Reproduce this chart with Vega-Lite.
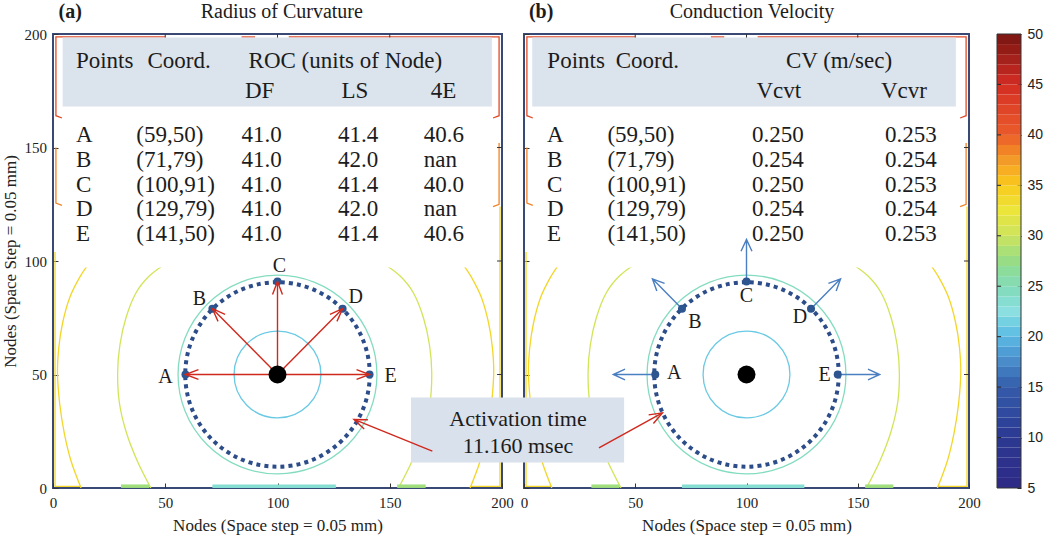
{
 "$schema": "https://vega.github.io/schema/vega-lite/v6.json",
 "background": "white",
 "padding": {"left": 0, "top": 0, "right": 2, "bottom": 0},
 "config": {
  "view": {"stroke": "#3a4876", "strokeWidth": 2},
  "axis": {"grid": false, "domain": false, "tickColor": "#333333", "tickWidth": 1, "labelFont": "Liberation Serif", "labelFontSize": 15, "labelColor": "#222222", "titleFont": "Liberation Serif", "titleFontSize": 17, "titleFontWeight": "normal", "titleColor": "#222222", "labelFlush": false},
  "text": {"font": "Liberation Serif", "color": "#1c1c1c"}
 },
 "datasets": {
  "circ": [{"lvl": 21, "r": 19.3}, {"lvl": 24.5, "r": 44.2}],
  "tk": [{"v": 50}, {"v": 100}, {"v": 150}],
  "cbt": [{"v": 10}, {"v": 15}, {"v": 20}, {"v": 25}, {"v": 30}, {"v": 35}, {"v": 40}, {"v": 45}],
  "arcs": [
   {"id": "g1", "lvl": 30.5, "i": 0, "x": 43.6, "y": 0}, {"id": "g1", "lvl": 30.5, "i": 1, "x": 37.5, "y": 12}, {"id": "g1", "lvl": 30.5, "i": 2, "x": 32.5, "y": 25}, {"id": "g1", "lvl": 30.5, "i": 3, "x": 29.5, "y": 38}, {"id": "g1", "lvl": 30.5, "i": 4, "x": 28.8, "y": 51}, {"id": "g1", "lvl": 30.5, "i": 5, "x": 29.8, "y": 63}, {"id": "g1", "lvl": 30.5, "i": 6, "x": 32.5, "y": 75}, {"id": "g1", "lvl": 30.5, "i": 7, "x": 37, "y": 86}, {"id": "g1", "lvl": 30.5, "i": 8, "x": 43, "y": 93.5}, {"id": "g1", "lvl": 30.5, "i": 9, "x": 52, "y": 100},
   {"id": "g2", "lvl": 30.5, "i": 0, "x": 153.9, "y": 0}, {"id": "g2", "lvl": 30.5, "i": 1, "x": 160, "y": 12}, {"id": "g2", "lvl": 30.5, "i": 2, "x": 165, "y": 25}, {"id": "g2", "lvl": 30.5, "i": 3, "x": 168, "y": 38}, {"id": "g2", "lvl": 30.5, "i": 4, "x": 168.7, "y": 51}, {"id": "g2", "lvl": 30.5, "i": 5, "x": 167.7, "y": 63}, {"id": "g2", "lvl": 30.5, "i": 6, "x": 165, "y": 75}, {"id": "g2", "lvl": 30.5, "i": 7, "x": 160.5, "y": 86}, {"id": "g2", "lvl": 30.5, "i": 8, "x": 154.5, "y": 93.5}, {"id": "g2", "lvl": 30.5, "i": 9, "x": 145.5, "y": 100},
   {"id": "y1", "lvl": 34, "i": 0, "x": 12.5, "y": 0}, {"id": "y1", "lvl": 34, "i": 1, "x": 8, "y": 12}, {"id": "y1", "lvl": 34, "i": 2, "x": 5, "y": 24.3}, {"id": "y1", "lvl": 34, "i": 3, "x": 3, "y": 37}, {"id": "y1", "lvl": 34, "i": 4, "x": 2, "y": 50.7}, {"id": "y1", "lvl": 34, "i": 5, "x": 2.6, "y": 62}, {"id": "y1", "lvl": 34, "i": 6, "x": 4.3, "y": 72.8}, {"id": "y1", "lvl": 34, "i": 7, "x": 7.5, "y": 84}, {"id": "y1", "lvl": 34, "i": 8, "x": 12, "y": 93}, {"id": "y1", "lvl": 34, "i": 9, "x": 16.5, "y": 99.5},
   {"id": "y2", "lvl": 34, "i": 0, "x": 185.8, "y": 0}, {"id": "y2", "lvl": 34, "i": 1, "x": 190.3, "y": 12}, {"id": "y2", "lvl": 34, "i": 2, "x": 193.3, "y": 24.3}, {"id": "y2", "lvl": 34, "i": 3, "x": 195.3, "y": 37}, {"id": "y2", "lvl": 34, "i": 4, "x": 196.3, "y": 50.7}, {"id": "y2", "lvl": 34, "i": 5, "x": 195.7, "y": 62}, {"id": "y2", "lvl": 34, "i": 6, "x": 194, "y": 72.8}, {"id": "y2", "lvl": 34, "i": 7, "x": 190.8, "y": 84}, {"id": "y2", "lvl": 34, "i": 8, "x": 186.3, "y": 93}, {"id": "y2", "lvl": 34, "i": 9, "x": 181.8, "y": 99.5}
  ],
  "edges": [
   {"id": "e1", "lvl": 34, "i": 0, "x": 0.9, "y": 104}, {"id": "e1", "lvl": 34, "i": 1, "x": 0.9, "y": 0.7}, {"id": "e1", "lvl": 34, "i": 2, "x": 12.5, "y": 0.7},
   {"id": "e2", "lvl": 34, "i": 0, "x": 199.1, "y": 124}, {"id": "e2", "lvl": 34, "i": 1, "x": 199.1, "y": 0.7}, {"id": "e2", "lvl": 34, "i": 2, "x": 185.8, "y": 0.7},
   {"id": "e3", "lvl": 42, "i": 0, "x": 4, "y": 163}, {"id": "e3", "lvl": 42, "i": 1, "x": 1.3, "y": 164}, {"id": "e3", "lvl": 42, "i": 2, "x": 1.3, "y": 198.7}, {"id": "e3", "lvl": 42, "i": 3, "x": 50, "y": 198.7},
   {"id": "e4", "lvl": 42, "i": 0, "x": 84, "y": 198.7}, {"id": "e4", "lvl": 42, "i": 1, "x": 90, "y": 198.7},
   {"id": "e5", "lvl": 42, "i": 0, "x": 105, "y": 198.7}, {"id": "e5", "lvl": 42, "i": 1, "x": 198.7, "y": 198.7}, {"id": "e5", "lvl": 42, "i": 2, "x": 198.7, "y": 164}, {"id": "e5", "lvl": 42, "i": 3, "x": 196, "y": 163},
   {"id": "e6", "lvl": 38.5, "i": 0, "x": 1.3, "y": 150}, {"id": "e6", "lvl": 38.5, "i": 1, "x": 1.3, "y": 125.5}, {"id": "e6", "lvl": 38.5, "i": 2, "x": 4, "y": 124.5},
   {"id": "e7", "lvl": 38.5, "i": 0, "x": 198.7, "y": 152}, {"id": "e7", "lvl": 38.5, "i": 1, "x": 198.7, "y": 125}, {"id": "e7", "lvl": 38.5, "i": 2, "x": 196, "y": 124}
  ],
  "bands": [{"lvl": 28, "a": 30.3, "b": 42.9}, {"lvl": 23.5, "a": 71, "b": 126}, {"lvl": 28, "a": 153.3, "b": 166}],
  "pts": [
   {"pt": "A", "x": 59, "y": 50, "dir": 270, "ty": 155.7, "coord": "(59,50)", "DF": "41.0", "LS": "41.4", "E4": "40.6", "vt": "0.250", "vr": "0.253"},
   {"pt": "B", "x": 71, "y": 79, "dir": 315.3, "ty": 144.7, "coord": "(71,79)", "DF": "41.0", "LS": "42.0", "E4": "nan", "vt": "0.254", "vr": "0.254"},
   {"pt": "C", "x": 100, "y": 91, "dir": 0, "ty": 133.7, "coord": "(100,91)", "DF": "41.0", "LS": "41.4", "E4": "40.0", "vt": "0.250", "vr": "0.253"},
   {"pt": "D", "x": 129, "y": 79, "dir": 44.7, "ty": 122.7, "coord": "(129,79)", "DF": "41.0", "LS": "42.0", "E4": "nan", "vt": "0.254", "vr": "0.254"},
   {"pt": "E", "x": 141, "y": 50, "dir": 90, "ty": 111.7, "coord": "(141,50)", "DF": "41.0", "LS": "41.4", "E4": "40.6", "vt": "0.250", "vr": "0.253"}
  ],
  "cbar": [
   {"lo": 5, "hi": 6, "c": 5.5}, {"lo": 6, "hi": 7, "c": 6.5}, {"lo": 7, "hi": 8, "c": 7.5}, {"lo": 8, "hi": 9, "c": 8.5}, {"lo": 9, "hi": 10, "c": 9.5},
   {"lo": 10, "hi": 11, "c": 10.5}, {"lo": 11, "hi": 12, "c": 11.5}, {"lo": 12, "hi": 13, "c": 12.5}, {"lo": 13, "hi": 14, "c": 13.5}, {"lo": 14, "hi": 15, "c": 14.5},
   {"lo": 15, "hi": 16, "c": 15.5}, {"lo": 16, "hi": 17, "c": 16.5}, {"lo": 17, "hi": 18, "c": 17.5}, {"lo": 18, "hi": 19, "c": 18.5}, {"lo": 19, "hi": 20, "c": 19.5},
   {"lo": 20, "hi": 21, "c": 20.5}, {"lo": 21, "hi": 22, "c": 21.5}, {"lo": 22, "hi": 23, "c": 22.5}, {"lo": 23, "hi": 24, "c": 23.5}, {"lo": 24, "hi": 25, "c": 24.5},
   {"lo": 25, "hi": 26, "c": 25.5}, {"lo": 26, "hi": 27, "c": 26.5}, {"lo": 27, "hi": 28, "c": 27.5}, {"lo": 28, "hi": 29, "c": 28.5}, {"lo": 29, "hi": 30, "c": 29.5},
   {"lo": 30, "hi": 31, "c": 30.5}, {"lo": 31, "hi": 32, "c": 31.5}, {"lo": 32, "hi": 33, "c": 32.5}, {"lo": 33, "hi": 34, "c": 33.5}, {"lo": 34, "hi": 35, "c": 34.5},
   {"lo": 35, "hi": 36, "c": 35.5}, {"lo": 36, "hi": 37, "c": 36.5}, {"lo": 37, "hi": 38, "c": 37.5}, {"lo": 38, "hi": 39, "c": 38.5}, {"lo": 39, "hi": 40, "c": 39.5},
   {"lo": 40, "hi": 41, "c": 40.5}, {"lo": 41, "hi": 42, "c": 41.5}, {"lo": 42, "hi": 43, "c": 42.5}, {"lo": 43, "hi": 44, "c": 43.5}, {"lo": 44, "hi": 45, "c": 44.5},
   {"lo": 45, "hi": 46, "c": 45.5}, {"lo": 46, "hi": 47, "c": 46.5}, {"lo": 47, "hi": 48, "c": 47.5}, {"lo": 48, "hi": 49, "c": 48.5}, {"lo": 49, "hi": 50, "c": 49.5}
  ]
 },
 "spacing": 22,
 "bounds": "flush",
 "hconcat": [
  {
   "width": 449, "height": 454,
   "data": {"values": [{}]},
   "layer": [
    {"data": {"name": "circ"}, "mark": {"type": "point", "shape": "circle", "filled": false, "strokeWidth": 1.3, "opacity": 1},
     "encoding": {
      "x": {"datum": 100, "type": "quantitative", "scale": {"domain": [0, 200], "nice": false, "zero": false}, "axis": {"orient": "bottom", "values": [0, 50, 100, 150, 200], "title": "Nodes (Space step = 0.05 mm)", "tickSize": -5, "labelPadding": 12.5, "titlePadding": 7}},
      "y": {"datum": 50, "type": "quantitative", "scale": {"domain": [0, 200], "nice": false, "zero": false}, "axis": {"orient": "left", "values": [0, 50, 100, 150, 200], "title": "Nodes (Space Step = 0.05 mm)", "tickSize": -5, "labelPadding": 11.5, "titlePadding": 4.5}},
      "size": {"field": "r", "type": "quantitative", "legend": null, "scale": {"type": "pow", "exponent": 2, "domain": [0, 100], "range": [0, 202500]}},
      "color": {"field": "lvl", "type": "quantitative", "legend": null, "scale": {"type": "linear", "domain": [5, 10, 15, 17.5, 20, 22.5, 25, 27.5, 30, 32.5, 35, 37.5, 40, 45, 50], "range": ["#2e2a85", "#2c3891", "#355ca9", "#4a8bca", "#5eb9e4", "#8cdfe0", "#86dbb6", "#98dc86", "#cde35c", "#ece63a", "#f8cb1e", "#f39b28", "#ea5b2b", "#d42c23", "#781612"]}}
     }},
    {"data": {"name": "arcs"}, "mark": {"type": "line", "strokeWidth": 1.3, "interpolate": "cardinal", "clip": true},
     "encoding": {"x": {"field": "x", "type": "quantitative"}, "y": {"field": "y", "type": "quantitative"}, "detail": {"field": "id", "type": "nominal"}, "order": {"field": "i", "type": "quantitative"}, "color": {"field": "lvl", "type": "quantitative", "legend": null}}},
    {"data": {"name": "edges"}, "mark": {"type": "line", "strokeWidth": 1.3},
     "encoding": {"x": {"field": "x", "type": "quantitative"}, "y": {"field": "y", "type": "quantitative"}, "detail": {"field": "id", "type": "nominal"}, "order": {"field": "i", "type": "quantitative"}, "color": {"field": "lvl", "type": "quantitative", "legend": null}}},
    {"data": {"name": "bands"}, "mark": {"type": "rule", "strokeWidth": 3.5},
     "encoding": {"x": {"field": "a", "type": "quantitative"}, "x2": {"field": "b"}, "y": {"datum": 0.8, "type": "quantitative"}, "color": {"field": "lvl", "type": "quantitative", "legend": null}}},
    {"data": {"name": "tk"}, "mark": {"type": "rule", "color": "#333333", "strokeWidth": 1}, "encoding": {"x": {"field": "v", "type": "quantitative"}, "y": {"datum": 200, "type": "quantitative"}, "y2": {"datum": 197.8}}},
    {"data": {"name": "tk"}, "mark": {"type": "rule", "color": "#333333", "strokeWidth": 1}, "encoding": {"y": {"field": "v", "type": "quantitative"}, "x": {"datum": 200, "type": "quantitative"}, "x2": {"datum": 197.8}}},
    {"mark": {"type": "rect", "color": "white"}, "encoding": {"x": {"datum": 4.3, "type": "quantitative"}, "x2": {"datum": 195.5}, "y": {"datum": 97.1, "type": "quantitative"}, "y2": {"datum": 168.1}}},
    {"mark": {"type": "rect", "color": "#dbe3ed"}, "encoding": {"x": {"datum": 4.3, "type": "quantitative"}, "x2": {"datum": 195.5}, "y": {"datum": 168.1, "type": "quantitative"}, "y2": {"datum": 198.5}}},
    {"mark": {"type": "text", "text": "Points", "fontSize": 23, "align": "left", "baseline": "middle"}, "encoding": {"x": {"datum": 10.2, "type": "quantitative"}, "y": {"datum": 187.9, "type": "quantitative"}}},
    {"mark": {"type": "text", "text": "Coord.", "fontSize": 23, "align": "left", "baseline": "middle"}, "encoding": {"x": {"datum": 42.1, "type": "quantitative"}, "y": {"datum": 187.9, "type": "quantitative"}}},
    {"mark": {"type": "text", "text": "ROC (units of Node)", "fontSize": 23, "align": "left", "baseline": "middle"}, "encoding": {"x": {"datum": 87.1, "type": "quantitative"}, "y": {"datum": 187.9, "type": "quantitative"}}},
    {"mark": {"type": "text", "text": "DF", "fontSize": 23, "align": "left", "baseline": "middle"}, "encoding": {"x": {"datum": 85.5, "type": "quantitative"}, "y": {"datum": 174.7, "type": "quantitative"}}},
    {"mark": {"type": "text", "text": "LS", "fontSize": 23, "align": "left", "baseline": "middle"}, "encoding": {"x": {"datum": 128.5, "type": "quantitative"}, "y": {"datum": 174.7, "type": "quantitative"}}},
    {"mark": {"type": "text", "text": "4E", "fontSize": 23, "align": "left", "baseline": "middle"}, "encoding": {"x": {"datum": 168.3, "type": "quantitative"}, "y": {"datum": 174.7, "type": "quantitative"}}},
    {"data": {"name": "pts"}, "mark": {"type": "text", "fontSize": 23, "align": "left", "baseline": "middle"}, "encoding": {"x": {"datum": 10.2, "type": "quantitative"}, "y": {"field": "ty", "type": "quantitative"}, "text": {"field": "pt", "type": "nominal"}}},
    {"data": {"name": "pts"}, "mark": {"type": "text", "fontSize": 23, "align": "left", "baseline": "middle"}, "encoding": {"x": {"datum": 37.1, "type": "quantitative"}, "y": {"field": "ty", "type": "quantitative"}, "text": {"field": "coord", "type": "nominal"}}},
    {"data": {"name": "pts"}, "mark": {"type": "text", "fontSize": 23, "align": "left", "baseline": "middle"}, "encoding": {"x": {"datum": 84, "type": "quantitative"}, "y": {"field": "ty", "type": "quantitative"}, "text": {"field": "DF", "type": "nominal"}}},
    {"data": {"name": "pts"}, "mark": {"type": "text", "fontSize": 23, "align": "left", "baseline": "middle"}, "encoding": {"x": {"datum": 127, "type": "quantitative"}, "y": {"field": "ty", "type": "quantitative"}, "text": {"field": "LS", "type": "nominal"}}},
    {"data": {"name": "pts"}, "mark": {"type": "text", "fontSize": 23, "align": "left", "baseline": "middle"}, "encoding": {"x": {"datum": 165.2, "type": "quantitative"}, "y": {"field": "ty", "type": "quantitative"}, "text": {"field": "E4", "type": "nominal"}}},
    {"mark": {"type": "point", "shape": "circle", "filled": false, "stroke": "#2c4d8a", "strokeWidth": 4, "strokeDash": [4, 4.1], "opacity": 1},
     "encoding": {"x": {"datum": 100, "type": "quantitative"}, "y": {"datum": 50, "type": "quantitative"}, "size": {"datum": 41, "type": "quantitative", "legend": null}}},
    {"data": {"name": "pts"}, "mark": {"type": "point", "shape": "circle", "filled": true, "color": "#2d5590", "size": 64, "opacity": 1}, "encoding": {"x": {"field": "x", "type": "quantitative"}, "y": {"field": "y", "type": "quantitative"}}},
    {"data": {"name": "pts"}, "mark": {"type": "rule", "color": "#d0281c", "strokeWidth": 1.4}, "encoding": {"x": {"field": "x", "type": "quantitative"}, "y": {"field": "y", "type": "quantitative"}, "x2": {"datum": 100}, "y2": {"datum": 50}}},
    {"data": {"name": "pts"}, "mark": {"type": "point", "shape": "M -0.38 1 L 0 0 L 0.38 1", "filled": false, "color": "#d0281c", "strokeWidth": 1.4, "size": 676, "opacity": 1}, "encoding": {"x": {"field": "x", "type": "quantitative"}, "y": {"field": "y", "type": "quantitative"}, "angle": {"field": "dir", "type": "quantitative", "scale": {"domain": [0, 360], "range": [0, 360]}}}},
    {"mark": {"type": "point", "shape": "circle", "filled": true, "color": "black", "size": 324, "opacity": 1}, "encoding": {"x": {"datum": 100, "type": "quantitative"}, "y": {"datum": 50, "type": "quantitative"}}},
    {"data": {"name": "pts"}, "transform": [{"filter": "datum.pt === 'A'"}], "mark": {"type": "text", "fontSize": 20, "align": "center", "baseline": "middle", "dx": -20, "dy": 2}, "encoding": {"x": {"field": "x", "type": "quantitative"}, "y": {"field": "y", "type": "quantitative"}, "text": {"field": "pt", "type": "nominal"}}},
    {"data": {"name": "pts"}, "transform": [{"filter": "datum.pt === 'B'"}], "mark": {"type": "text", "fontSize": 20, "align": "center", "baseline": "middle", "dx": -13, "dy": -10}, "encoding": {"x": {"field": "x", "type": "quantitative"}, "y": {"field": "y", "type": "quantitative"}, "text": {"field": "pt", "type": "nominal"}}},
    {"data": {"name": "pts"}, "transform": [{"filter": "datum.pt === 'C'"}], "mark": {"type": "text", "fontSize": 20, "align": "center", "baseline": "middle", "dx": 2, "dy": -15}, "encoding": {"x": {"field": "x", "type": "quantitative"}, "y": {"field": "y", "type": "quantitative"}, "text": {"field": "pt", "type": "nominal"}}},
    {"data": {"name": "pts"}, "transform": [{"filter": "datum.pt === 'D'"}], "mark": {"type": "text", "fontSize": 20, "align": "center", "baseline": "middle", "dx": 13, "dy": -12}, "encoding": {"x": {"field": "x", "type": "quantitative"}, "y": {"field": "y", "type": "quantitative"}, "text": {"field": "pt", "type": "nominal"}}},
    {"data": {"name": "pts"}, "transform": [{"filter": "datum.pt === 'E'"}], "mark": {"type": "text", "fontSize": 20, "align": "center", "baseline": "middle", "dx": 21, "dy": 1}, "encoding": {"x": {"field": "x", "type": "quantitative"}, "y": {"field": "y", "type": "quantitative"}, "text": {"field": "pt", "type": "nominal"}}},
    {"mark": {"type": "text", "text": "(a)", "fontSize": 20, "fontWeight": "bold", "align": "left", "baseline": "middle"}, "encoding": {"x": {"datum": 2.5, "type": "quantitative"}, "y": {"datum": 209.9, "type": "quantitative"}}},
    {"mark": {"type": "text", "text": "Radius of Curvature", "fontSize": 20, "align": "center", "baseline": "middle"}, "encoding": {"x": {"datum": 101.9, "type": "quantitative"}, "y": {"datum": 209.9, "type": "quantitative"}}}
   ]
  },
  {
   "width": 445, "height": 454,
   "data": {"values": [{}]},
   "layer": [
    {"data": {"name": "circ"}, "mark": {"type": "point", "shape": "circle", "filled": false, "strokeWidth": 1.3, "opacity": 1},
     "encoding": {
      "x": {"datum": 100, "type": "quantitative", "scale": {"domain": [0, 200], "nice": false, "zero": false}, "axis": {"orient": "bottom", "values": [0, 50, 100, 150, 200], "title": "Nodes (Space step = 0.05 mm)", "tickSize": -5, "labelPadding": 12.5, "titlePadding": 7}},
      "y": {"datum": 50, "type": "quantitative", "scale": {"domain": [0, 200], "nice": false, "zero": false}, "axis": {"orient": "left", "values": [0, 50, 100, 150, 200], "labels": false, "title": null, "tickSize": -5}},
      "size": {"field": "r", "type": "quantitative", "legend": null, "scale": {"type": "pow", "exponent": 2, "domain": [0, 100], "range": [0, 202500]}},
      "color": {"field": "lvl", "type": "quantitative", "legend": null}
     }},
    {"data": {"name": "arcs"}, "mark": {"type": "line", "strokeWidth": 1.3, "interpolate": "cardinal", "clip": true},
     "encoding": {"x": {"field": "x", "type": "quantitative"}, "y": {"field": "y", "type": "quantitative"}, "detail": {"field": "id", "type": "nominal"}, "order": {"field": "i", "type": "quantitative"}, "color": {"field": "lvl", "type": "quantitative", "legend": null}}},
    {"data": {"name": "edges"}, "mark": {"type": "line", "strokeWidth": 1.3},
     "encoding": {"x": {"field": "x", "type": "quantitative"}, "y": {"field": "y", "type": "quantitative"}, "detail": {"field": "id", "type": "nominal"}, "order": {"field": "i", "type": "quantitative"}, "color": {"field": "lvl", "type": "quantitative", "legend": null}}},
    {"data": {"name": "bands"}, "mark": {"type": "rule", "strokeWidth": 3.5},
     "encoding": {"x": {"field": "a", "type": "quantitative"}, "x2": {"field": "b"}, "y": {"datum": 0.8, "type": "quantitative"}, "color": {"field": "lvl", "type": "quantitative", "legend": null}}},
    {"data": {"name": "tk"}, "mark": {"type": "rule", "color": "#333333", "strokeWidth": 1}, "encoding": {"x": {"field": "v", "type": "quantitative"}, "y": {"datum": 200, "type": "quantitative"}, "y2": {"datum": 197.8}}},
    {"data": {"name": "tk"}, "mark": {"type": "rule", "color": "#333333", "strokeWidth": 1}, "encoding": {"y": {"field": "v", "type": "quantitative"}, "x": {"datum": 200, "type": "quantitative"}, "x2": {"datum": 197.75}}},
    {"mark": {"type": "rect", "color": "white"}, "encoding": {"x": {"datum": 4, "type": "quantitative"}, "x2": {"datum": 195}, "y": {"datum": 97.1, "type": "quantitative"}, "y2": {"datum": 168.1}}},
    {"mark": {"type": "rect", "color": "#dbe3ed"}, "encoding": {"x": {"datum": 3.7, "type": "quantitative"}, "x2": {"datum": 194.1}, "y": {"datum": 168.1, "type": "quantitative"}, "y2": {"datum": 198.5}}},
    {"mark": {"type": "text", "text": "Points", "fontSize": 23, "align": "left", "baseline": "middle"}, "encoding": {"x": {"datum": 10.5, "type": "quantitative"}, "y": {"datum": 187.9, "type": "quantitative"}}},
    {"mark": {"type": "text", "text": "Coord.", "fontSize": 23, "align": "left", "baseline": "middle"}, "encoding": {"x": {"datum": 41.2, "type": "quantitative"}, "y": {"datum": 187.9, "type": "quantitative"}}},
    {"mark": {"type": "text", "text": "CV (m/sec)", "fontSize": 23, "align": "left", "baseline": "middle"}, "encoding": {"x": {"datum": 117.7, "type": "quantitative"}, "y": {"datum": 187.9, "type": "quantitative"}}},
    {"mark": {"type": "text", "text": "Vcvt", "fontSize": 23, "align": "left", "baseline": "middle"}, "encoding": {"x": {"datum": 104.5, "type": "quantitative"}, "y": {"datum": 174.7, "type": "quantitative"}}},
    {"mark": {"type": "text", "text": "Vcvr", "fontSize": 23, "align": "left", "baseline": "middle"}, "encoding": {"x": {"datum": 160.4, "type": "quantitative"}, "y": {"datum": 174.7, "type": "quantitative"}}},
    {"data": {"name": "pts"}, "mark": {"type": "text", "fontSize": 23, "align": "left", "baseline": "middle"}, "encoding": {"x": {"datum": 10.3, "type": "quantitative"}, "y": {"field": "ty", "type": "quantitative"}, "text": {"field": "pt", "type": "nominal"}}},
    {"data": {"name": "pts"}, "mark": {"type": "text", "fontSize": 23, "align": "left", "baseline": "middle"}, "encoding": {"x": {"datum": 37.5, "type": "quantitative"}, "y": {"field": "ty", "type": "quantitative"}, "text": {"field": "coord", "type": "nominal"}}},
    {"data": {"name": "pts"}, "mark": {"type": "text", "fontSize": 23, "align": "left", "baseline": "middle"}, "encoding": {"x": {"datum": 102.5, "type": "quantitative"}, "y": {"field": "ty", "type": "quantitative"}, "text": {"field": "vt", "type": "nominal"}}},
    {"data": {"name": "pts"}, "mark": {"type": "text", "fontSize": 23, "align": "left", "baseline": "middle"}, "encoding": {"x": {"datum": 162.3, "type": "quantitative"}, "y": {"field": "ty", "type": "quantitative"}, "text": {"field": "vr", "type": "nominal"}}},
    {"mark": {"type": "point", "shape": "circle", "filled": false, "stroke": "#2c4d8a", "strokeWidth": 4, "strokeDash": [4, 4.1], "opacity": 1},
     "encoding": {"x": {"datum": 100, "type": "quantitative"}, "y": {"datum": 50, "type": "quantitative"}, "size": {"datum": 41, "type": "quantitative", "legend": null}}},
    {"data": {"name": "pts"}, "mark": {"type": "point", "shape": "M 0 0 L 0 -1 M -0.13 -0.72 L 0 -1 L 0.13 -0.72", "filled": false, "color": "#4a7fc1", "strokeWidth": 1.4, "size": 7056, "opacity": 1}, "encoding": {"x": {"field": "x", "type": "quantitative"}, "y": {"field": "y", "type": "quantitative"}, "angle": {"field": "dir", "type": "quantitative", "scale": {"domain": [0, 360], "range": [0, 360]}}}},
    {"data": {"name": "pts"}, "mark": {"type": "point", "shape": "circle", "filled": true, "color": "#2d5590", "size": 64, "opacity": 1}, "encoding": {"x": {"field": "x", "type": "quantitative"}, "y": {"field": "y", "type": "quantitative"}}},
    {"mark": {"type": "point", "shape": "circle", "filled": true, "color": "black", "size": 324, "opacity": 1}, "encoding": {"x": {"datum": 100, "type": "quantitative"}, "y": {"datum": 50, "type": "quantitative"}}},
    {"data": {"name": "pts"}, "transform": [{"filter": "datum.pt === 'A'"}], "mark": {"type": "text", "fontSize": 20, "align": "center", "baseline": "middle", "dx": 19, "dy": -2}, "encoding": {"x": {"field": "x", "type": "quantitative"}, "y": {"field": "y", "type": "quantitative"}, "text": {"field": "pt", "type": "nominal"}}},
    {"data": {"name": "pts"}, "transform": [{"filter": "datum.pt === 'B'"}], "mark": {"type": "text", "fontSize": 20, "align": "center", "baseline": "middle", "dx": 13, "dy": 13}, "encoding": {"x": {"field": "x", "type": "quantitative"}, "y": {"field": "y", "type": "quantitative"}, "text": {"field": "pt", "type": "nominal"}}},
    {"data": {"name": "pts"}, "transform": [{"filter": "datum.pt === 'C'"}], "mark": {"type": "text", "fontSize": 20, "align": "center", "baseline": "middle", "dx": 0, "dy": 15}, "encoding": {"x": {"field": "x", "type": "quantitative"}, "y": {"field": "y", "type": "quantitative"}, "text": {"field": "pt", "type": "nominal"}}},
    {"data": {"name": "pts"}, "transform": [{"filter": "datum.pt === 'D'"}], "mark": {"type": "text", "fontSize": 20, "align": "center", "baseline": "middle", "dx": -11, "dy": 8}, "encoding": {"x": {"field": "x", "type": "quantitative"}, "y": {"field": "y", "type": "quantitative"}, "text": {"field": "pt", "type": "nominal"}}},
    {"data": {"name": "pts"}, "transform": [{"filter": "datum.pt === 'E'"}], "mark": {"type": "text", "fontSize": 20, "align": "center", "baseline": "middle", "dx": -13, "dy": 0}, "encoding": {"x": {"field": "x", "type": "quantitative"}, "y": {"field": "y", "type": "quantitative"}, "text": {"field": "pt", "type": "nominal"}}},
    {"mark": {"type": "text", "text": "(b)", "fontSize": 20, "fontWeight": "bold", "align": "left", "baseline": "middle"}, "encoding": {"x": {"datum": 2.2, "type": "quantitative"}, "y": {"datum": 209.9, "type": "quantitative"}}},
    {"mark": {"type": "text", "text": "Conduction Velocity", "fontSize": 20, "align": "center", "baseline": "middle"}, "encoding": {"x": {"datum": 102.5, "type": "quantitative"}, "y": {"datum": 209.9, "type": "quantitative"}}},
    {"mark": {"type": "rect", "color": "#d9e1ec"}, "encoding": {"x": {"datum": -50.8, "type": "quantitative"}, "x2": {"datum": 45}, "y": {"datum": 11.2, "type": "quantitative"}, "y2": {"datum": 39.9}}},
    {"mark": {"type": "text", "text": "Activation time", "fontSize": 22, "align": "center", "baseline": "middle"}, "encoding": {"x": {"datum": -2.7, "type": "quantitative"}, "y": {"datum": 30.2, "type": "quantitative"}}},
    {"mark": {"type": "text", "text": "11.160 msec", "fontSize": 22, "align": "center", "baseline": "middle"}, "encoding": {"x": {"datum": -2.7, "type": "quantitative"}, "y": {"datum": 18.4, "type": "quantitative"}}},
    {"mark": {"type": "rule", "color": "#d0281c", "strokeWidth": 1.4}, "encoding": {"x": {"datum": -41.2, "type": "quantitative"}, "y": {"datum": 16.2, "type": "quantitative"}, "x2": {"datum": -76.4}, "y2": {"datum": 30.2}}},
    {"mark": {"type": "point", "shape": "M -0.38 1 L 0 0 L 0.38 1", "filled": false, "color": "#d0281c", "strokeWidth": 1.4, "size": 676, "opacity": 1, "angle": 292}, "encoding": {"x": {"datum": -76.4, "type": "quantitative"}, "y": {"datum": 30.2, "type": "quantitative"}}},
    {"mark": {"type": "rule", "color": "#d0281c", "strokeWidth": 1.4}, "encoding": {"x": {"datum": 33.7, "type": "quantitative"}, "y": {"datum": 17.7, "type": "quantitative"}, "x2": {"datum": 62.2}, "y2": {"datum": 33.1}}},
    {"mark": {"type": "point", "shape": "M -0.38 1 L 0 0 L 0.38 1", "filled": false, "color": "#d0281c", "strokeWidth": 1.4, "size": 676, "opacity": 1, "angle": 61}, "encoding": {"x": {"datum": 62.2, "type": "quantitative"}, "y": {"datum": 33.1, "type": "quantitative"}}}
   ]
  },
  {
   "width": 30, "height": 454,
   "view": {"stroke": null},
   "layer": [
    {"data": {"name": "cbar"}, "mark": {"type": "rect"},
     "encoding": {
      "x": {"datum": 0, "type": "quantitative", "scale": {"domain": [-0.25, 1], "nice": false, "zero": false}, "axis": null},
      "x2": {"datum": 1},
      "y": {"field": "lo", "type": "quantitative", "scale": {"domain": [5, 50], "nice": false, "zero": false}, "axis": {"orient": "right", "values": [5, 10, 15, 20, 25, 30, 35, 40, 45, 50], "title": null, "labelFont": "Liberation Sans", "labelFontSize": 14, "labelColor": "#222222", "tickSize": -4, "labelPadding": 10, "tickColor": "#222222"}},
      "y2": {"field": "hi"},
      "color": {"field": "c", "type": "quantitative", "legend": null}
     }},
    {"data": {"name": "cbt"}, "mark": {"type": "rule", "color": "#222222", "strokeWidth": 1}, "encoding": {"y": {"field": "v", "type": "quantitative"}, "x": {"datum": 0, "type": "quantitative"}, "x2": {"datum": 0.17}}},
    {"data": {"values": [{}]}, "mark": {"type": "rect", "filled": false, "stroke": "#333333", "strokeWidth": 1}, "encoding": {"x": {"datum": 0, "type": "quantitative"}, "x2": {"datum": 1}, "y": {"datum": 5, "type": "quantitative"}, "y2": {"datum": 50}}}
   ]
  }
 ]
}
